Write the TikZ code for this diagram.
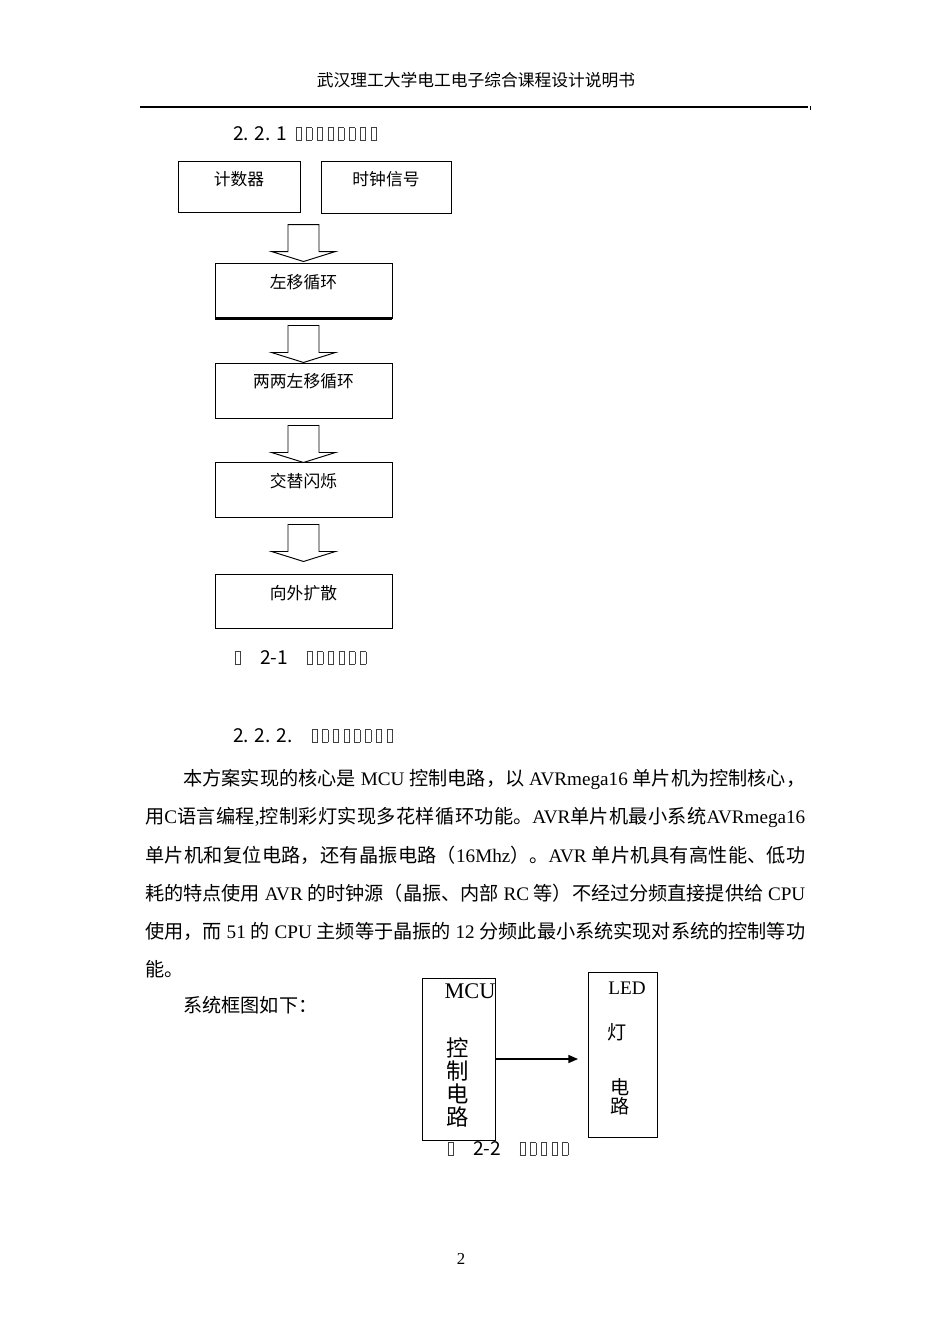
\documentclass[tikz,border=0pt]{standalone}
\usepackage{fontspec}
\setmainfont{Liberation Serif}
\newfontfamily\cjk{Noto Sans CJK SC}
\usetikzlibrary{calc,positioning,arrows.meta}

% switch to the CJK font for Chinese characters
\XeTeXinterchartokenstate=1
\newXeTeXintercharclass\cjkclass
\newcount\cjkcode
\def\setcjkrange#1#2{\cjkcode=#1\relax
  \loop\XeTeXcharclass\cjkcode=\cjkclass\advance\cjkcode by 1\relax
  \ifnum\cjkcode<#2\repeat}
\setcjkrange{"4E00}{"A000}
\setcjkrange{"3000}{"3040}
\setcjkrange{"FF00}{"FFF0}
\XeTeXinterchartoks 0 \cjkclass = {\cjk}
\XeTeXinterchartoks 4095 \cjkclass = {\cjk}
\XeTeXinterchartoks \cjkclass 0 = {\rmfamily}
\XeTeXinterchartoks \cjkclass 4095 = {\rmfamily}
\XeTeXlinebreaklocale "zh"
\XeTeXlinebreakskip=0pt plus 1.5pt minus 0.5pt

\newcommand\pxu{0.6264pt}
\newcommand\tofu{\makebox[6.7pt][c]{\color{black!75}\fboxsep=0pt\fboxrule=0.4pt\fbox{\rule{0pt}{7.5pt}\hspace{3pt}}}}
\newcommand\tofurun[1]{\foreach \k in {1,...,#1}{\tofu}}
\newcommand\hollowarrow[1]{\draw[hollow] (#1) ++(-15.5,0) -- ++(31,0) -- ++(0,27) -- ++(16.5,0) -- ++(-32,10) -- ++(-32,-10) -- ++(16.5,0) -- cycle;}

\tikzset{
  flowbox/.style={draw, line width=0.6pt, inner sep=0pt},
  boxtext/.style={inner sep=0pt, font=\fontsize{10.5pt}{12pt}\selectfont},
  hollow/.style={draw, line width=0.6pt, fill=white},
  bodyline/.style={anchor=west, inner sep=0pt, font=\fontsize{12pt}{14pt}\selectfont},
  headtext/.style={anchor=west, inner sep=0pt, font=\cjk\fontsize{12pt}{14pt}\selectfont},
  mcutext/.style={inner sep=0pt, align=center},
}

\begin{document}
\begin{tikzpicture}[x=0.6264pt, y=-0.6264pt]
	%%%%% START %%%%%
	\fill[white] (0,0) rectangle (950,1344);
	\useasboundingbox (0,0) rectangle (950,1344);

	% page header
	\node[boxtext] (title) at (476,80) {武汉理工大学电工电子综合课程设计说明书};
	\draw[line width=1pt] (140,107) -- (808,107);
	\draw[line width=0.4pt] (810,106) -- (810,110);

	% 2.2.1 flow chart
	\node[headtext] (h1num) at (233,134) {2. 2. 1};
	\node[headtext] (h1box) at (293,134) {\tofurun{8}};

	\node[flowbox, minimum width=122*\pxu, minimum height=51*\pxu] (counter) at (239,186.5) {};
	\node[boxtext] (counter-t) at ($(counter.north)+(0,19)$) {计数器};
	\node[flowbox, minimum width=130*\pxu, minimum height=52*\pxu] (clock) at (386,187) {};
	\node[boxtext] (clock-t) at ($(clock.north)+(0,19)$) {时钟信号};

	\node[flowbox, minimum width=177*\pxu, minimum height=55*\pxu] (shift) at (303.5,290.5) {};
	\draw[line width=1.4pt] (shift.south west) -- (shift.south east);
	\node[boxtext] (shift-t) at ($(shift.north)+(0,20)$) {左移循环};

	\node[flowbox, minimum width=177*\pxu, minimum height=55*\pxu] (pair) at (303.5,390.5) {};
	\node[boxtext] (pair-t) at ($(pair.north)+(0,19)$) {两两左移循环};

	\node[flowbox, minimum width=177*\pxu, minimum height=55*\pxu] (blink) at (303.5,489.5) {};
	\node[boxtext] (blink-t) at ($(blink.north)+(0,20)$) {交替闪烁};

	\node[flowbox, minimum width=177*\pxu, minimum height=54*\pxu] (spread) at (303.5,601) {};
	\node[boxtext] (spread-t) at ($(spread.north)+(0,20)$) {向外扩散};

	\hollowarrow{$(shift.north)+(0,-38)$}
	\hollowarrow{$(shift.south)+(0,7)$}
	\hollowarrow{$(pair.south)+(0,7)$}
	\hollowarrow{$(blink.south)+(0,7)$}

	\node[headtext] (cap1a) at (232,658) {\tofu};
	\node[headtext] (cap1n) at (260,658) {2-1};
	\node[headtext] (cap1b) at (304,658) {\tofurun{6}};

	% 2.2.2 text
	\node[headtext] (h2num) at (233,736) {2. 2. 2.};
	\node[headtext] (h2box) at (309,736) {\tofurun{8}};

	\node[bodyline, text width=389.6pt, align=justify] (line1) at (183,779)
		{\noindent{\parfillskip=0pt 本方案实现的核心是 MCU 控制电路，以 AVRmega16 单片机为控制核心，\par}};
	\node[bodyline, text width=413.4pt, align=justify] (line2) at (145,817)
		{\noindent{\parfillskip=0pt 用C语言编程,控制彩灯实现多花样循环功能。AVR单片机最小系统AVRmega16\par}};
	\node[bodyline, text width=413.4pt, align=justify] (line3) at (145,855)
		{\noindent{\parfillskip=0pt 单片机和复位电路，还有晶振电路（16Mhz）。AVR 单片机具有高性能、低功\par}};
	\node[bodyline, text width=413.4pt, align=justify] (line4) at (145,893)
		{\noindent{\parfillskip=0pt 耗的特点使用 AVR 的时钟源（晶振、内部 RC 等）不经过分频直接提供给 CPU\par}};
	\node[bodyline, text width=413.4pt, align=justify] (line5) at (145,931)
		{\noindent{\parfillskip=0pt 使用，而 51 的 CPU 主频等于晶振的 12 分频此最小系统实现对系统的控制等功\par}};
	\node[bodyline] (line6) at (145,969) {能。};
	\node[bodyline] (line7) at (183,1005) {系统框图如下：};

	% block diagram
	\node[flowbox, minimum width=73*\pxu, minimum height=162*\pxu] (mcu) at (458.5,1059) {};
	\node[flowbox, minimum width=69*\pxu, minimum height=165*\pxu] (led) at (622.5,1054.5) {};
	\coordinate (ledin) at (578,1059);
	\draw[line width=0.9pt, -{Triangle[length=6pt,width=5pt]}] (mcu.east) -- (ledin);

	\node[mcutext, font=\fontsize{14pt}{14pt}\selectfont] (mcu-t) at (470,991) {MCU};
	\node[mcutext, font=\fontsize{14pt}{14.4pt}\selectfont] (mcu-c) at (458,1082) {控\\制\\电\\路};
	\node[mcutext, font=\fontsize{12pt}{12pt}\selectfont] (led-t) at (627,988) {LED};
	\node[mcutext, font=\fontsize{12pt}{12pt}\selectfont] (led-c1) at (617,1032) {灯};
	\node[mcutext, font=\fontsize{12pt}{12pt}\selectfont] (led-c2) at (620,1097) {电\\路};

	\node[headtext] (cap2a) at (445,1149) {\tofu};
	\node[headtext] (cap2n) at (473,1149) {2-2};
	\node[headtext] (cap2b) at (517,1149) {\tofurun{5}};

	% page number
	\node[boxtext] (pageno) at (461,1259) {2};
	%%%%% END %%%%%
\end{tikzpicture}
\end{document}
